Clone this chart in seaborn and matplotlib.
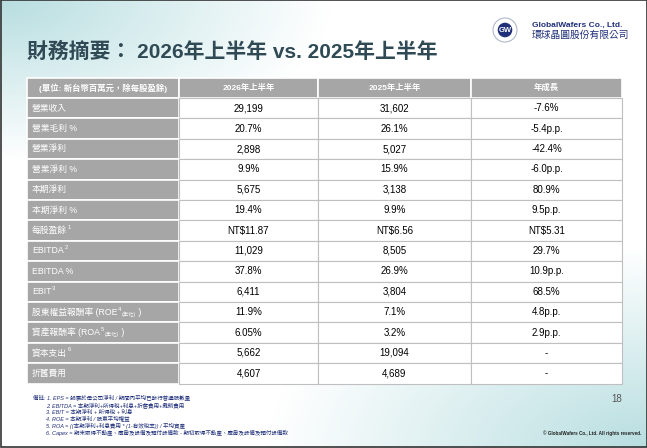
import numpy as np
import matplotlib
matplotlib.use("Agg")
import matplotlib.pyplot as plt
import seaborn as sns
from matplotlib.patches import Rectangle, Circle

sns.set_theme(style="white")
plt.rcParams['font.family'] = ['Liberation Sans', 'Noto Sans CJK TC', 'DejaVu Sans']

header = ["(單位: 新台幣百萬元，除每股盈餘)", "2026年上半年", "2025年上半年", "年成長"]
labels = [["營業收入"], ["營業毛利 %"], ["營業淨利"], ["營業淨利 %"], ["本期淨利"], ["本期淨利 %"],
          ["每股盈餘", "1"], ["EBITDA", "2"], ["EBITDA %"], ["EBIT", "3"],
          ["股東權益報酬率 (ROE", "4", "(年化)", " )"], ["資產報酬率 (ROA", "5", "(年化)", " )"],
          ["資本支出", "6"], ["折舊費用"]]
v2026 = ["29,199", "20.7%", "2,898", "9.9%", "5,675", "19.4%", "NT$11.87", "11,029",
         "37.8%", "6,411", "11.9%", "6.05%", "5,662", "4,607"]
v2025 = ["31,602", "26.1%", "5,027", "15.9%", "3,138", "9.9%", "NT$6.56", "8,505",
         "26.9%", "3,804", "7.1%", "3.2%", "19,094", "4,689"]
growth = ["-7.6%", "-5.4p.p.", "-42.4%", "-6.0p.p.", "80.9%", "9.5p.p.", "NT$5.31",
          "29.7%", "10.9p.p.", "68.5%", "4.8p.p.", "2.9p.p.", "-", "-"]
notes = ["備註: 1. EPS = 歸屬於母公司淨利 / 期間內平均已發行普通股數量",
         "2. EBITDA = 本期淨利+所得稅+利息+折舊費用+攤銷費用",
         "3. EBIT = 本期淨利 + 所得稅 + 利息",
         "4. ROE = 本期淨利 / 股東平均權益",
         "5. ROA = ((本期淨利+利息費用 * (1-有效稅率)) / 平均資產",
         "6. Capex = 期末取得不動產、廠房及設備及預付設備款 - 期初取得不動產、廠房及設備及預付設備款"]

W, H = 647, 448
fig = plt.figure(figsize=(W/100, H/100), dpi=100)
ax = fig.add_axes([0, 0, 1, 1])
ax.set_xlim(0, W); ax.set_ylim(H, 0); ax.axis("off")

yy, xx = np.mgrid[0:H, 0:W]
d1 = np.clip(1 - np.hypot(xx/330, yy/160), 0, 1)
d2 = np.clip(1 - np.hypot((W-xx)/380, (H-yy)/200), 0, 1)
t = np.clip(np.maximum(d1, d2), 0, 1)
teal = np.array([0.72, 0.87, 0.88]); white = np.array([1, 1, 1])
img = white[None, None, :]*(1-t[..., None]) + teal[None, None, :]*t[..., None]
ax.imshow(img, extent=(0, W, H, 0), zorder=0)
ax.add_patch(Rectangle((0.5, 0.5), W-1, H-1, fill=False, ec="#333333", lw=1.2, zorder=5))

ax.text(27, 52, "財務摘要： 2026年上半年 vs. 2025年上半年", fontsize=15, color="#2f4a55",
        fontweight="bold", va="center")
ax.add_patch(Circle((505, 30), 12, fc="white", ec="#b0b8c8", lw=0.8, zorder=3))
ax.add_patch(Circle((505, 30), 8, fc="#1f2f7a", zorder=4))
ax.text(505, 30.5, "GW", color="white", fontsize=5.5, ha="center", va="center", fontweight="bold", zorder=5)
ax.text(532, 25, "GlobalWafers Co., Ltd.", color="#1f2f7a", fontsize=6, fontweight="bold", va="center")
ax.text(532, 35, "環球晶圓股份有限公司", color="#1f2f7a", fontsize=7, va="center")

cols = [27, 179, 318, 471, 622]
top, hh, rh = 78, 20, 20.4
gray = "#a6a6a6"
for i in range(4):
    ax.add_patch(Rectangle((cols[i], top), cols[i+1]-cols[i], hh, fc=gray, ec="white", lw=1.2, zorder=2))
    ax.text((cols[i]+cols[i+1])/2, top+hh/2, header[i], color="white", fontsize=6,
            ha="center", va="center", fontweight="bold", zorder=3)

fig.canvas.draw()
ren = fig.canvas.get_renderer()
def width_px(txt):
    return txt.get_window_extent(ren).width

for r in range(len(labels)):
    y = top + hh + r*rh
    ax.add_patch(Rectangle((cols[0], y), cols[1]-cols[0], rh, fc=gray, ec="white", lw=1.2, zorder=2))
    x = cols[0] + 5
    parts = labels[r]
    styles = [(6.3, 0), (4.2, -3), (3.8, 1.5), (6.3, 0)]
    for k, p in enumerate(parts):
        fs, dy = styles[k]
        tx = ax.text(x, y + rh/2 + dy, p, color="white", fontsize=fs, va="center", zorder=3)
        x += width_px(tx) + 0.5
    for i, vals in enumerate([v2026, v2025, growth]):
        ax.add_patch(Rectangle((cols[i+1], y), cols[i+2]-cols[i+1], rh, fc="white", ec="#bfbfbf", lw=0.8, zorder=2))
        ax.text((cols[i+1]+cols[i+2])/2, y+rh/2, vals[r], color="black", fontsize=7,
                ha="center", va="center", zorder=3)

for k, n in enumerate(notes):
    ax.text(33 if k == 0 else 46, 398 + k*6.9, n, fontsize=4, style="italic", color="#1f2f7a", va="center")
ax.text(622, 399, "18", fontsize=7, color="#555555", ha="right", va="center")
ax.text(641, 433, "© GlobalWafers Co., Ltd. All rights reserved.", fontsize=3.3, ha="right",
        va="center", fontweight="bold", color="#222222")

fig.savefig("out.png", dpi=100)
